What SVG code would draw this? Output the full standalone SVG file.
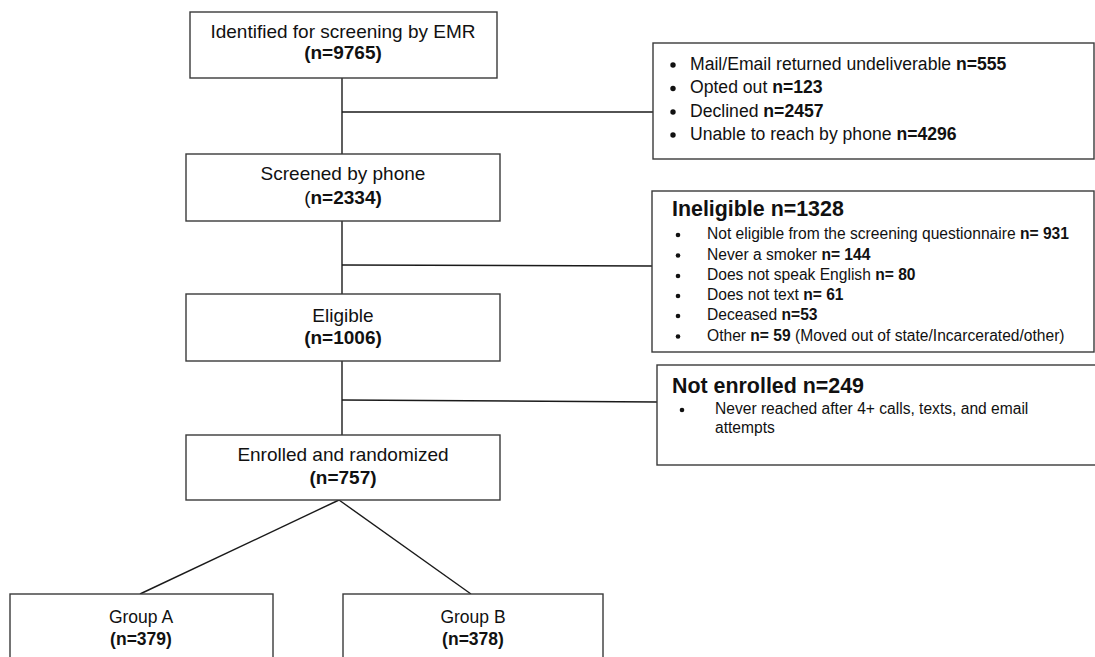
<svg xmlns="http://www.w3.org/2000/svg" width="1095" height="657" viewBox="0 0 1095 657">
<style>
.box{fill:#fff;stroke:#3a3a3a;stroke-width:1.4}
.ln{stroke:#1a1a1a;stroke-width:1.4;fill:none}
text{font-family:"Liberation Sans",Arial,sans-serif;fill:#111}
.m{font-size:19px;text-anchor:middle}
.g{font-size:17.5px;text-anchor:middle}
.b{font-weight:bold}
.s1{font-size:17.6px}
.s2{font-size:15.6px}
.h{font-size:21.4px;font-weight:bold}
.dot{fill:#111}
</style>
<rect width="1095" height="657" fill="#fff"/>
<g id="connectors">
<line class="ln" x1="342" y1="78" x2="342" y2="154"/>
<line class="ln" x1="342" y1="112" x2="653" y2="112"/>
<line class="ln" x1="342" y1="221" x2="342" y2="294"/>
<line class="ln" x1="342" y1="265" x2="652" y2="266"/>
<line class="ln" x1="342" y1="361" x2="342" y2="435"/>
<line class="ln" x1="342" y1="400" x2="657" y2="402"/>
<line class="ln" x1="339" y1="500" x2="140" y2="594"/>
<line class="ln" x1="339" y1="500" x2="471" y2="594"/>
</g>
<g id="identified">
<rect class="box" x="190" y="12" width="307" height="66"/>
<text class="m" x="343" y="38">Identified for screening by EMR</text>
<text class="m b" x="343" y="59">(n=9765)</text>
</g>
<g id="excluded1">
<rect class="box" x="653" y="43" width="441" height="116"/>
<g class="s1">
<circle class="dot" cx="673" cy="65" r="2.7"/>
<text x="690" y="70">Mail/Email returned undeliverable <tspan class="b">n=555</tspan></text>
<circle class="dot" cx="673" cy="88.5" r="2.7"/>
<text x="690" y="93">Opted out <tspan class="b">n=123</tspan></text>
<circle class="dot" cx="673" cy="112" r="2.7"/>
<text x="690" y="116.5">Declined <tspan class="b">n=2457</tspan></text>
<circle class="dot" cx="673" cy="135" r="2.7"/>
<text x="690" y="139.5">Unable to reach by phone <tspan class="b">n=4296</tspan></text>
</g>
</g>
<g id="screened">
<rect class="box" x="186" y="154" width="314" height="67"/>
<text class="m" x="343" y="180">Screened by phone</text>
<text class="m" x="343" y="204">(<tspan class="b">n=2334)</tspan></text>
</g>
<g id="ineligible">
<rect class="box" x="652" y="191" width="442" height="161"/>
<text class="h" x="672" y="216">Ineligible n=1328</text>
<g class="s2">
<circle class="dot" cx="678" cy="235" r="2.3"/>
<text x="707" y="239">Not eligible from the screening questionnaire <tspan class="b">n= 931</tspan></text>
<circle class="dot" cx="678" cy="255.5" r="2.3"/>
<text x="707" y="259.5">Never a smoker <tspan class="b">n= 144</tspan></text>
<circle class="dot" cx="678" cy="276" r="2.3"/>
<text x="707" y="280">Does not speak English <tspan class="b">n= 80</tspan></text>
<circle class="dot" cx="678" cy="296" r="2.3"/>
<text x="707" y="300">Does not text <tspan class="b">n= 61</tspan></text>
<circle class="dot" cx="678" cy="316" r="2.3"/>
<text x="707" y="320">Deceased <tspan class="b">n=53</tspan></text>
<circle class="dot" cx="678" cy="336.5" r="2.3"/>
<text x="707" y="340.5">Other <tspan class="b">n= 59</tspan> (Moved out of state/Incarcerated/other)</text>
</g>
</g>
<g id="eligible">
<rect class="box" x="186" y="294" width="314" height="67"/>
<text class="m" x="343" y="322">Eligible</text>
<text class="m b" x="343" y="344">(n=1006)</text>
</g>
<g id="notenrolled">
<rect class="box" x="657" y="365" width="440" height="100"/>
<text class="h" x="672" y="393">Not enrolled n=249</text>
<g class="s2">
<circle class="dot" cx="682" cy="410" r="2.3"/>
<text x="715" y="414">Never reached after 4+ calls, texts, and email</text>
<text x="715" y="433">attempts</text>
</g>
</g>
<g id="enrolled">
<rect class="box" x="186" y="435" width="314" height="65"/>
<text class="m" x="343" y="461">Enrolled and randomized</text>
<text class="m b" x="343" y="484">(n=757)</text>
</g>
<g id="groupA">
<rect class="box" x="10" y="594" width="263" height="70"/>
<text class="g" x="141" y="623">Group A</text>
<text class="g b" x="141" y="645">(n=379)</text>
</g>
<g id="groupB">
<rect class="box" x="343" y="594" width="260" height="70"/>
<text class="g" x="473" y="623">Group B</text>
<text class="g b" x="473" y="645">(n=378)</text>
</g>
</svg>
